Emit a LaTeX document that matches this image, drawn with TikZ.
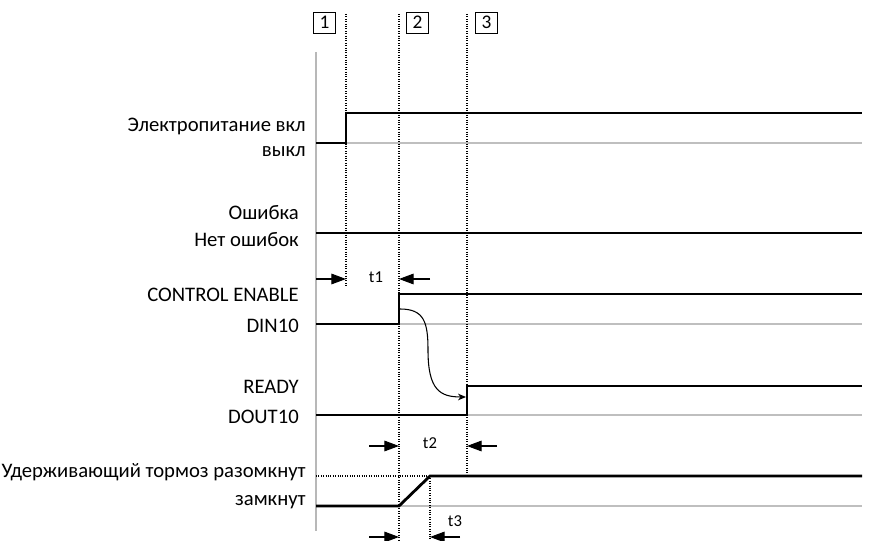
\documentclass[tikz,border=0pt]{standalone}
\usepackage{fontspec}
\setmainfont{Carlito}
\usetikzlibrary{arrows.meta}
\begin{document}
\begin{tikzpicture}[x=0.75pt,y=-0.75pt,
  sig/.style={line width=2.1pt, line join=miter, line cap=butt},
  base/.style={draw=black!25, line width=0.9pt},
  axisline/.style={draw=black!28, line width=1.7pt},
  vguide/.style={densely dotted, line width=0.8pt},
  lbl/.style={anchor=east, inner sep=0pt, font=\fontsize{15.5}{18}\selectfont},
  tlbl/.style={inner sep=0pt, font=\fontsize{12.5}{14}\selectfont},
  numbox/.style={draw, line width=0.6pt, inner sep=0pt, minimum width=16.5pt, minimum height=15.75pt, font=\fontsize{14.5}{16}\selectfont},
  dimarrow/.style={line width=0.8pt, -{Triangle[length=11pt,width=8pt]}},
  flowarrow/.style={line width=0.8pt, -{Stealth[length=6pt,width=5pt]}}
]
\useasboundingbox (0,0) rectangle (886,541);

% guide coordinates
\coordinate (g1t) at (346,14);  \coordinate (g1b) at (346,287);
\coordinate (g2t) at (399,14);  \coordinate (g2b) at (399,540);
\coordinate (g3t) at (467,14);  \coordinate (g3b) at (467,475);
\coordinate (g4t) at (430,476); \coordinate (g4b) at (430,540);

% axis
\coordinate (axT) at (316,52); \coordinate (axB) at (316,531);

% baselines
\draw[base] (316,143) -- (862,143);
\draw[base] (316,324) -- (862,324);
\draw[base] (316,415) -- (862,415);
\draw[base] (316,506) -- (862,506);

\draw[axisline] (axT) -- (axB);

% dotted guides
\draw[vguide] (g1t) -- (g1b);
\draw[vguide] (g2t) -- (g2b);
\draw[vguide] (g3t) -- (g3b);
\draw[vguide] (g4t) -- (g4b);
\draw[vguide] (316,476) -- (g4t);

% number boxes
\node[numbox] (n1) at (324.5,22.5) {1};
\node[numbox] (n2) at (417.5,22.5) {2};
\node[numbox] (n3) at (486.5,22.5) {3};

% signals
\draw[sig] (316,143) -- (346,143) -- (346,113) -- (862,113);
\draw[sig] (316,233) -- (862,233);
\draw[sig] (316,324) -- (399,324) -- (399,294) -- (862,294);
\draw[sig] (316,415) -- (467,415) -- (467,386) -- (862,386);
\draw[sig] (316,506) -- (399,506) -- (g4t) -- (862,476);

% labels
\node[lbl] (l1a) at (306,126) {Электропитание вкл};
\node[lbl] (l1b) at (306,152) {выкл};
\node[lbl] (l2a) at (299,213) {Ошибка};
\node[lbl] (l2b) at (299,240) {Нет ошибок};
\node[lbl] (l3a) at (299,295) {CONTROL ENABLE};
\node[lbl] (l3b) at (299,326) {DIN10};
\node[lbl] (l4a) at (299,387) {READY};
\node[lbl] (l4b) at (299,417) {DOUT10};
\node[lbl] (l5a) at (306,472) {Удерживающий тормоз разомкнут};
\node[lbl] (l5b) at (306,502) {замкнут};

% curved causal arrow
\coordinate (cs) at (400,309);
\coordinate (ce) at (466,397);
\draw[flowarrow] (cs) .. controls (424,309) and (428,322) .. (428,350) .. controls (428,390) and (440,397) .. (ce);

% time dimension arrows
\coordinate (a1s) at (316,279); \coordinate (a1e) at (346,279);
\coordinate (b1s) at (430,279); \coordinate (b1e) at (399,279);
\draw[dimarrow] (a1s) -- (a1e);
\draw[dimarrow] (b1s) -- (b1e);
\node[tlbl] (t1) at (376,277) {t1};

\coordinate (a2s) at (369,446); \coordinate (a2e) at (399,446);
\coordinate (b2s) at (497,446); \coordinate (b2e) at (467,446);
\draw[dimarrow] (a2s) -- (a2e);
\draw[dimarrow] (b2s) -- (b2e);
\node[tlbl] (t2) at (430,443) {t2};

\coordinate (a3s) at (369,537); \coordinate (a3e) at (399,537);
\coordinate (b3s) at (460,537); \coordinate (b3e) at (430,537);
\draw[dimarrow] (a3s) -- (a3e);
\draw[dimarrow] (b3s) -- (b3e);
\node[tlbl] (t3) at (455,521) {t3};
\end{tikzpicture}
\end{document}
